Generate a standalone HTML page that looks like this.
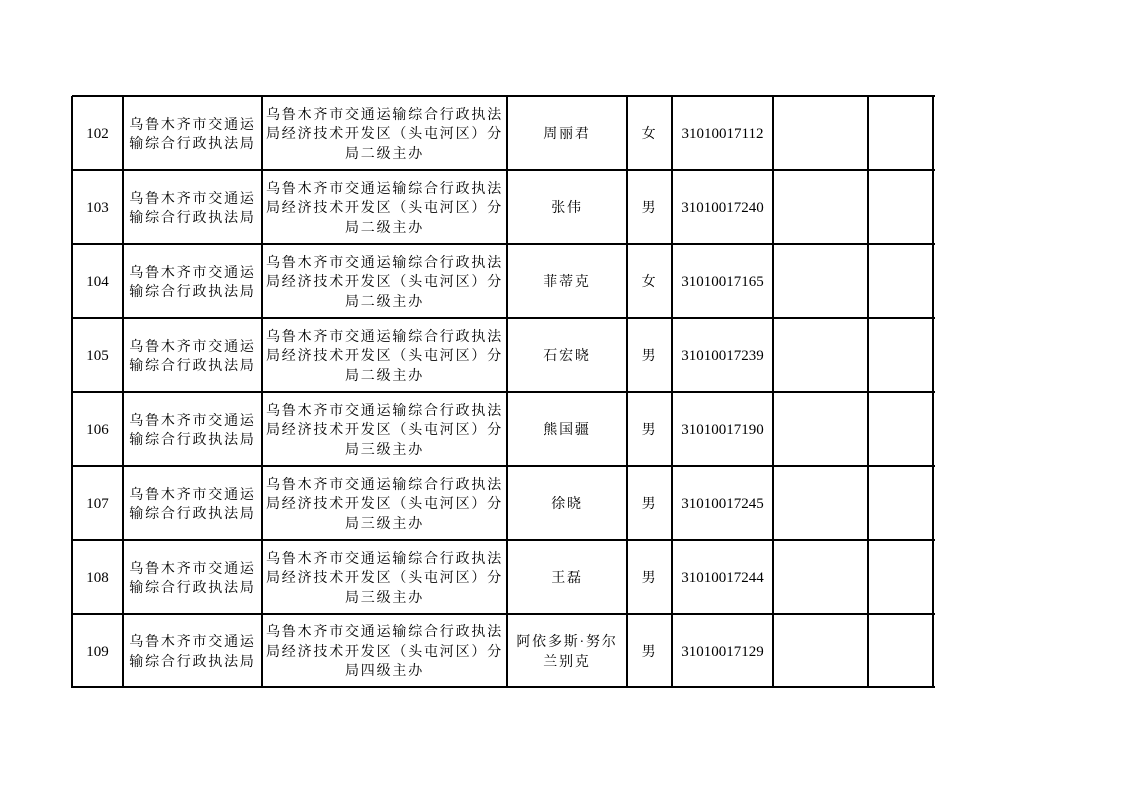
<!DOCTYPE html>
<html><head><meta charset="utf-8"><style>
body{margin:0;width:1122px;height:793px;background:#fff;position:relative;overflow:hidden;font-family:"Liberation Serif","Noto Serif CJK SC",serif;color:#000}
.h{position:absolute;height:2px;background:#000;left:72px;width:863px}
.v{position:absolute;width:2px;background:#000;top:96px;height:592px}
.c{position:absolute;display:flex;align-items:center;justify-content:center;text-align:center;font-size:14px;line-height:19.5px;letter-spacing:1.8px;white-space:nowrap;box-sizing:border-box;padding-top:4px}
.n{letter-spacing:0;font-size:15px}
</style></head><body>
<div id="g"></div>
<script>
const cols=[72,123,262,507,627,672,773,868,933];
const rows=[96,170,244,318,392,466,540,614,687];
let h='';
rows.forEach(y=>h+=`<div class="h" style="top:${y-1}px"></div>`);
cols.forEach(x=>h+=`<div class="v" style="left:${x-1}px"></div>`);
const data=[
[102,"二","周丽君","女","31010017112"],
[103,"二","张伟","男","31010017240"],
[104,"二","菲蒂克","女","31010017165"],
[105,"二","石宏晓","男","31010017239"],
[106,"三","熊国疆","男","31010017190"],
[107,"三","徐晓","男","31010017245"],
[108,"三","王磊","男","31010017244"],
[109,"四","阿依多斯·努尔<br>兰别克","男","31010017129"]];
function cell(i,j,t,cls){const x=cols[j]+1,w=cols[j+1]-cols[j]-2,y=rows[i]+1,hh=rows[i+1]-rows[i]-2;
h+=`<div class="c ${cls||''}" style="left:${x}px;top:${y}px;width:${w}px;height:${hh}px"><div>${t}</div></div>`;}
data.forEach((d,i)=>{
cell(i,0,d[0],'n');
cell(i,1,'乌鲁木齐市交通运<br>输综合行政执法局');
cell(i,2,'乌鲁木齐市交通运输综合行政执法<br>局经济技术开发区（头屯河区）分<br>局'+d[1]+'级主办');
cell(i,3,d[2]);
cell(i,4,d[3]);
cell(i,5,d[4],'n');
});
document.getElementById('g').innerHTML=h;
</script>
</body></html>
